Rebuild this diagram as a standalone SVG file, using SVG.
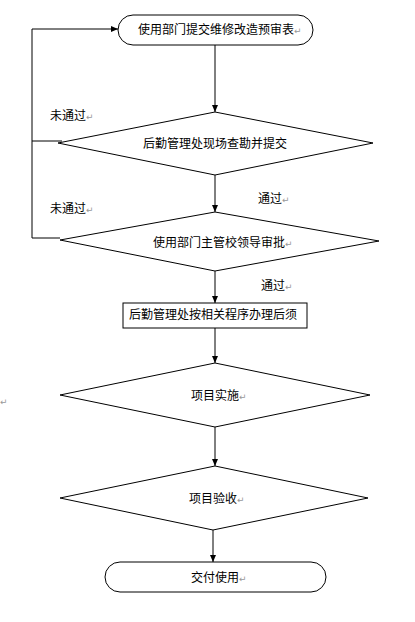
<svg xmlns="http://www.w3.org/2000/svg" width="415" height="622" viewBox="0 0 415 622">
<style>
.s{fill:#fff;stroke:#000;stroke-width:1}
.l{fill:none;stroke:#000;stroke-width:1}
text{font-family:"Noto Sans CJK SC","Liberation Sans",sans-serif;font-size:12px;fill:#000}
.t{text-anchor:middle}
.p{fill:#999;font-size:9px;font-family:"DejaVu Sans",sans-serif}
</style>
<defs>
<marker id="a" markerWidth="8" markerHeight="8" refX="7" refY="4" orient="auto" markerUnits="userSpaceOnUse">
<path d="M0,1 L7,4 L0,7 Z" fill="#000"/>
</marker>
</defs>
<g id="connectors">
<line class="l" x1="215" y1="45" x2="215" y2="112" marker-end="url(#a)"/>
<line class="l" x1="215" y1="175" x2="215" y2="212" marker-end="url(#a)"/>
<line class="l" x1="215" y1="271" x2="215" y2="303" marker-end="url(#a)"/>
<line class="l" x1="215" y1="328" x2="215" y2="363" marker-end="url(#a)"/>
<line class="l" x1="215" y1="427" x2="215" y2="466" marker-end="url(#a)"/>
<line class="l" x1="213" y1="530" x2="213" y2="562" marker-end="url(#a)"/>
<polyline class="l" points="60,238 32,238 32,29 118,29" marker-end="url(#a)"/>
<line class="l" x1="32" y1="141" x2="62" y2="141"/>
<text x="50" y="120">未通过<tspan class="p">↵</tspan></text>
<text x="50" y="213">未通过<tspan class="p">↵</tspan></text>
<text x="258" y="203">通过<tspan class="p">↵</tspan></text>
<text x="261" y="290">通过<tspan class="p">↵</tspan></text>
</g>
<g id="start">
<rect class="s" x="118" y="15" width="195" height="30" rx="15"/>
<text x="138" y="34">使用部门提交维修改造预审表<tspan class="p">↵</tspan></text>
</g>
<g id="d1">
<polygon class="s" points="215,112 373,143 215,175 58,143"/>
<text class="t" x="215" y="148">后勤管理处现场查勘并提交</text>
</g>
<g id="d2">
<polygon class="s" points="215,212 379,241 215,271 60,240"/>
<text x="153" y="247">使用部门主管校领导审批<tspan class="p">↵</tspan></text>
</g>
<g id="r1">
<rect class="s" x="123" y="303" width="184" height="25"/>
<text class="t" x="213" y="319">后勤管理处按相关程序办理后须</text>
</g>
<g id="d3">
<polygon class="s" points="215,363 370,395 215,427 60,395"/>
<text x="191" y="400">项目实施<tspan class="p">↵</tspan></text>
</g>
<g id="d4">
<polygon class="s" points="215,466 368,498 213,530 60,498"/>
<text x="189" y="503">项目验收<tspan class="p">↵</tspan></text>
</g>
<g id="end">
<rect class="s" x="105" y="562" width="221" height="30" rx="15"/>
<text x="191" y="582">交付使用<tspan class="p">↵</tspan></text>
</g>
<text class="p" x="0" y="405">↵</text>
</svg>
